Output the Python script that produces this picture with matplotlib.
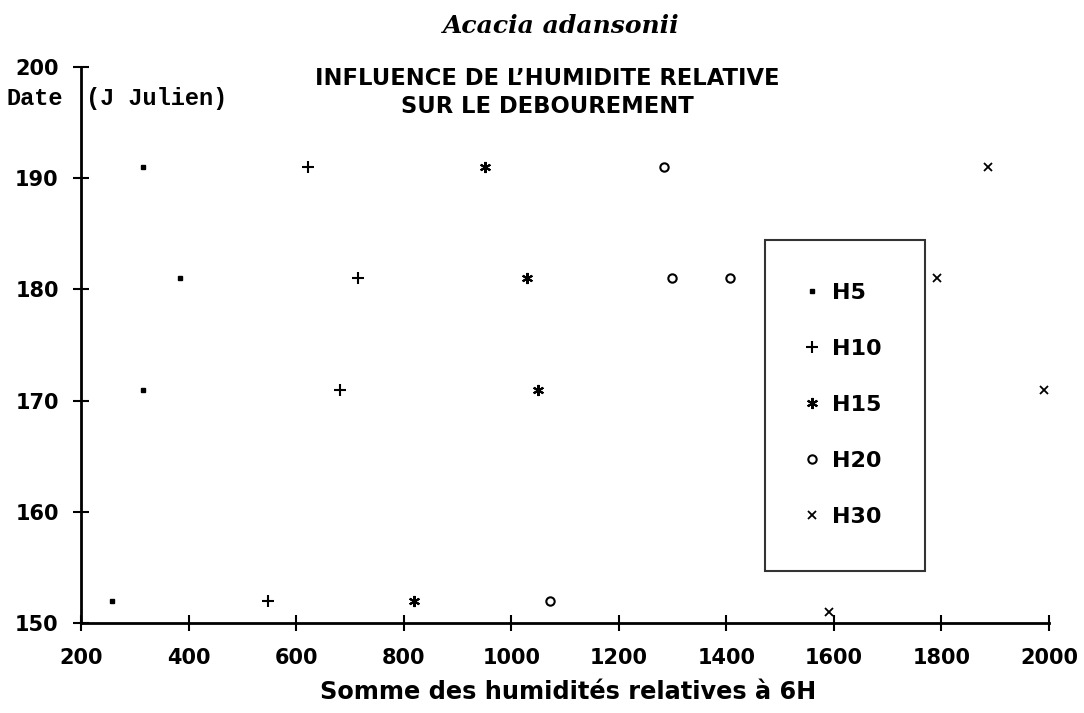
import numpy as np
import matplotlib
matplotlib.use("Agg")
import matplotlib.pyplot as plt

# budbreak date (julian day) against sum of relative humidity at 6h
h5_x = [315, 384, 315, 258]
h5_y = [191, 181, 171, 152]
h10_x = [622, 715, 682, 548]
h10_y = [191, 181, 171, 152]
h15_x = [952, 1029, 1050, 820]
h15_y = [191, 181, 171, 152]
h20_x = [1285, 1299, 1407, 1072]
h20_y = [191, 181, 181, 152]
h30_x = [1887, 1792, 1990, 1591]
h30_y = [191, 181, 171, 151]

xticks = [200, 400, 600, 800, 1000, 1200, 1400, 1600, 1800, 2000]
yticks = [150, 160, 170, 180, 190, 200]

sans = ["DejaVu Sans"]

fig = plt.figure(figsize=(10.84, 7.13), dpi=100)
ax = fig.add_axes([0.0747, 0.1262, 0.893, 0.7798])

ms = dict(color="black", linestyle="none")
ax.plot(h5_x, h5_y, marker="s", markersize=2.5, label="H5", **ms)
ax.plot(h10_x, h10_y, marker="+", markersize=8, markeredgewidth=1.5, label="H10", **ms)
ax.plot(h15_x, h15_y, marker=(6, 2, 0), markersize=8, markeredgewidth=1.5, label="H15", **ms)
ax.plot(h20_x, h20_y, marker="o", markersize=6, markerfacecolor="white",
        markeredgewidth=1.5, label="H20", **ms)
ax.plot(h30_x, h30_y, marker="x", markersize=5.5, markeredgewidth=1.3, label="H30", **ms)

ax.set_xlim(200, 2000)
ax.set_ylim(150, 200)
ax.set_xticks(xticks)
ax.set_yticks(yticks)
ax.set_xticklabels([str(v) for v in xticks], family=sans, fontweight="bold", fontsize=15)
ax.set_yticklabels([str(v) for v in yticks], family=sans, fontweight="bold", fontsize=15)
ax.tick_params(direction="inout", length=12, width=1.5, color="black")
ax.tick_params(axis="x", pad=12)
ax.tick_params(axis="y", pad=10)

for s in ["top", "right"]:
    ax.spines[s].set_visible(False)
for s in ["left", "bottom"]:
    ax.spines[s].set_linewidth(2)

leg = ax.legend(loc="upper left", bbox_to_anchor=(0.707, 0.689), frameon=True,
                fancybox=False, edgecolor="black", borderpad=1.95, labelspacing=1.62,
                handlelength=0.3, handletextpad=0.75, borderaxespad=0,
                prop=dict(family=sans, weight="bold", size=16))
leg.get_frame().set_linewidth(1.5)

fig.text(0.518, 0.9635, "Acacia adansonii", ha="center", va="center",
         family="DejaVu Serif", style="italic", fontweight="bold", fontsize=18)
fig.text(0.505, 0.8906, "INFLUENCE DE L\u2019HUMIDITE RELATIVE", ha="center", va="center",
         family=sans, fontweight="bold", fontsize=16.3)
fig.text(0.505, 0.851, "SUR LE DEBOUREMENT", ha="center", va="center",
         family=sans, fontweight="bold", fontsize=16.3)
fig.text(0.058, 0.862, "Date", ha="right", va="center",
         family="Liberation Mono", fontweight="bold", fontsize=17)
fig.text(0.0795, 0.862, "(J Julien)", ha="left", va="center",
         family="Liberation Mono", fontweight="bold", fontsize=17)
fig.text(0.524, 0.03, "Somme des humidités relatives à 6H", ha="center", va="center",
         family=sans, fontweight="bold", fontsize=17.3)

fig.savefig("out.png", dpi=100, facecolor="white")
